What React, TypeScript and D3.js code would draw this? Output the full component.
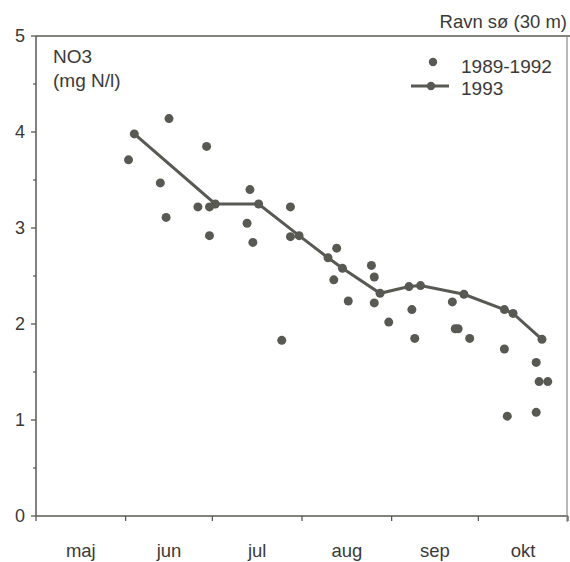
import React from "react";
import * as d3 from "d3";

const months = ["maj", "jun", "jul", "aug", "sep", "okt"];
const yTicks = [0, 1, 2, 3, 4, 5];

const histDates = [
  "06-02", "06-16", "06-13", "06-15", "06-29", "06-26", "06-30", "06-30",
  "07-14", "07-13", "07-15", "07-28", "07-28", "07-25", "08-13", "08-12",
  "08-17", "08-25", "08-26", "08-26", "08-31", "09-08", "09-09", "09-22",
  "09-23", "09-24", "09-28", "10-10", "10-21", "10-22", "10-25", "10-11", "10-21",
];
const histValues = [
  3.71, 4.14, 3.47, 3.11, 3.85, 3.22, 3.22, 2.92,
  3.40, 3.05, 2.85, 3.22, 2.91, 1.83, 2.79, 2.46,
  2.24, 2.61, 2.49, 2.22, 2.02, 2.15, 1.85, 2.23,
  1.95, 1.95, 1.85, 1.74, 1.60, 1.40, 1.40, 1.04, 1.08,
];

const y1993Dates = [
  "06-04", "07-02", "07-17", "07-31", "08-10", "08-15", "08-28",
  "09-07", "09-11", "09-26", "10-10", "10-13", "10-23",
];
const y1993Values = [
  3.98, 3.25, 3.25, 2.92, 2.69, 2.58, 2.32, 2.39, 2.40, 2.31, 2.15, 2.11, 1.84,
];

const parse = (s: string) => new Date(1993, +s.slice(0, 2) - 1, +s.slice(3, 5));

export default function App() {
  const W = 570, H = 562;
  const left = 36, right = 568, top = 36, bottom = 516;
  const x = d3.scaleTime().domain([new Date(1993, 4, 1), new Date(1993, 10, 1)]).range([left, right]);
  const y = d3.scaleLinear().domain([0, 5]).range([bottom, top]);
  const ink = "#595954";
  const txt = "#3a3a38";
  const font = "'Liberation Sans', Arial, Helvetica, sans-serif";

  const monthStarts = d3.range(0, 7).map((i) => new Date(1993, 4 + i, 1));
  const monthMids = months.map((_, i) => new Date((monthStarts[i].getTime() + monthStarts[i + 1].getTime()) / 2));
  const minor = d3.range(0.5, 5, 1);

  const line = d3
    .line<[Date, number]>()
    .x((d) => x(d[0]))
    .y((d) => y(d[1]));
  const pts1993: [Date, number][] = y1993Dates.map((d, i) => [parse(d), y1993Values[i]]);

  return (
    <svg width={W} height={H} style={{ position: "absolute", left: 0, top: 0, background: "#fff" }} fontFamily={font}>
      {/* frame */}
      <line x1={left} x2={W} y1={top} y2={top} stroke={ink} strokeWidth={1.5} />
      <line x1={left} x2={left} y1={top} y2={bottom} stroke={ink} strokeWidth={1.5} />
      <line x1={left} x2={right} y1={bottom} y2={bottom} stroke={ink} strokeWidth={1.5} />
      <line x1={right - 1} x2={right - 1} y1={top} y2={bottom + 6} stroke="#8a8a86" strokeWidth={1.2} />
      {/* y ticks */}
      {yTicks.map((t) => (
        <g key={t}>
          <line x1={left - 5} x2={left} y1={y(t)} y2={y(t)} stroke={ink} strokeWidth={1.3} />
          <text x={25} y={y(t)} dy="0.36em" textAnchor="end" fontSize={18} fill={txt}>
            {t}
          </text>
        </g>
      ))}
      {minor.map((t) => (
        <line key={t} x1={left - 3} x2={left} y1={y(t)} y2={y(t)} stroke={ink} strokeWidth={1.2} />
      ))}
      {/* x ticks */}
      {monthStarts.map((d, i) => (
        <line key={i} x1={x(d)} x2={x(d)} y1={bottom} y2={bottom + 5} stroke={ink} strokeWidth={1.3} />
      ))}
      {months.map((m, i) => (
        <text key={m} x={x(monthMids[i])} y={557} textAnchor="middle" fontSize={18.5} fill={txt}>
          {m}
        </text>
      ))}
      {/* titles */}
      <text x={53} y={63} fontSize={19} fill={txt}>NO3</text>
      <text x={53} y={87} fontSize={19} fill={txt}>(mg N/l)</text>
      <text x={567} y={28} textAnchor="end" fontSize={18.5} fill={txt}>Ravn sø (30 m)</text>
      {/* legend */}
      <circle cx={433} cy={62} r={4.2} fill={ink} />
      <text x={461} y={72.5} fontSize={19} fill={txt}>1989-1992</text>
      <line x1={411} x2={449} y1={86} y2={86} stroke={ink} strokeWidth={3} />
      <circle cx={431} cy={86} r={4.2} fill={ink} />
      <text x={461} y={95} fontSize={19} fill={txt}>1993</text>
      {/* historic points */}
      {histDates.map((d, i) => (
        <circle key={"h" + i} cx={x(parse(d))} cy={y(histValues[i])} r={4.5} fill={ink} />
      ))}
      {/* 1993 line */}
      <path d={line(pts1993) || ""} fill="none" stroke={ink} strokeWidth={3} />
      {pts1993.map((p, i) => (
        <circle key={"p" + i} cx={x(p[0])} cy={y(p[1])} r={4.5} fill={ink} />
      ))}
    </svg>
  );
}
